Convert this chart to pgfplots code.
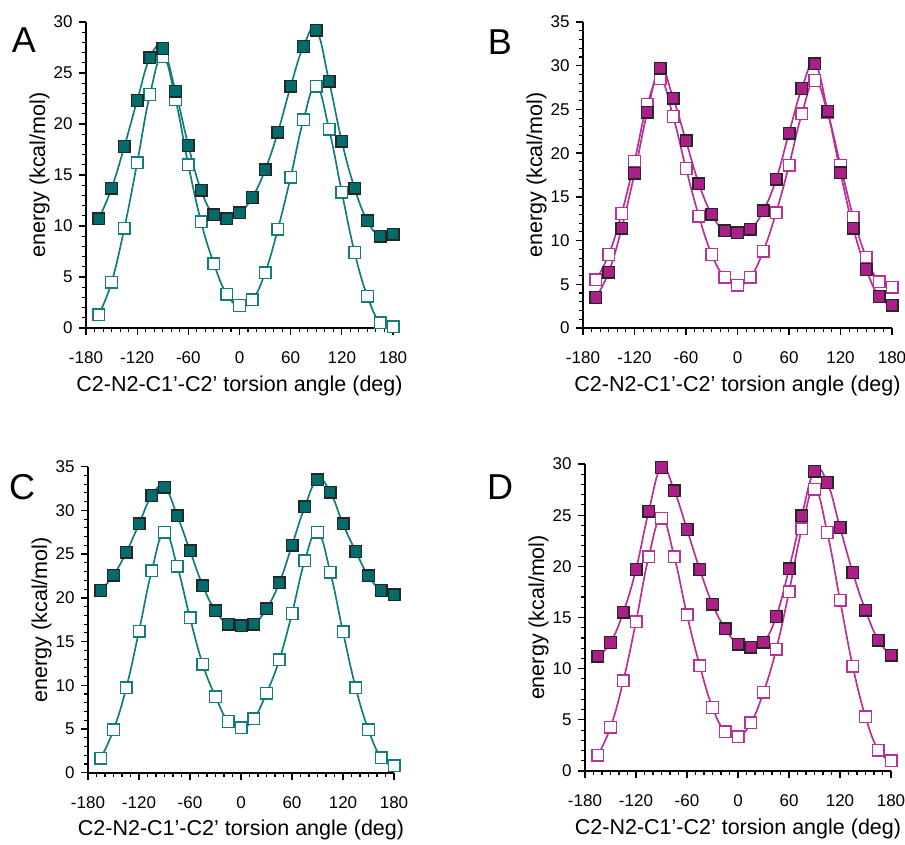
\documentclass[border=0pt]{standalone}
\usepackage{pgfplots}
\pgfplotsset{compat=1.18}
\usepackage{fontspec}
\setmainfont{Liberation Sans}
\definecolor{tealc}{RGB}{0,108,108}
\definecolor{tealline}{RGB}{18,124,126}
\definecolor{magc}{RGB}{172,30,136}
\definecolor{magline}{RGB}{182,50,150}
\pgfplotsset{
  panel/.style={
    scale only axis, clip=false,
    axis lines=left, axis line style={-, line width=1.6pt, black},
    tick align=outside,
    major tick length=0pt, minor tick length=0pt,
    xmin=-180, xmax=180, ymin=0,
    xtick={-180,-120,-60,0,60,120,180},
    xticklabels={-180,-120,-60,0,60,120,180},
    tick label style={font=\fontsize{17}{20}\selectfont},
    xticklabel style={yshift=-20pt},
    yticklabel style={xshift=-10pt},
    label style={font=\fontsize{21.5}{24}\selectfont},
    xlabel={C2-N2-C1'-C2' torsion angle (deg)},
    ylabel={energy (kcal/mol)},
    xlabel style={yshift=-5pt},
    ylabel style={yshift=-3pt},
  },
  ytick30/.style={ymax=30, ytick={0,5,10,15,20,25,30}, yticklabels={0,5,10,15,20,25,30}},
  ytick35/.style={ymax=35, ytick={0,5,10,15,20,25,30,35}, yticklabels={0,5,10,15,20,25,30,35}},
  darkT/.style={smooth, tension=0.75, line width=1.7pt, color=tealline, mark=square*, mark size=5.8pt,
     mark options={fill=tealc, draw=black!85, line width=1.4pt}},
  openT/.style={smooth, tension=0.75, line width=1.7pt, color=tealline, mark=square*, mark size=5.8pt,
     mark options={fill=white, draw=tealline, line width=1.4pt}},
  darkM/.style={smooth, tension=0.75, line width=1.7pt, color=magline, mark=square*, mark size=5.8pt,
     mark options={fill=magc, draw=black!85, line width=1.4pt}},
  openM/.style={smooth, tension=0.75, line width=1.7pt, color=magline, mark=square*, mark size=5.8pt,
     mark options={fill=white, draw=magline, line width=1.4pt}},
  majtk/.style={forget plot, only marks, mark size=3.5pt, mark options={black, line width=1.3pt}},
  mintk/.style={forget plot, only marks, mark size=2pt, mark options={black, line width=1.1pt}},
}
% x-axis tick marks: #1 = centre of a major tick, #2 = centre of a minor tick (y units)
\newcommand\xtk[2]{%
\addplot[majtk, mark=|] coordinates {(-180,#1)(-120,#1)(-60,#1)(0,#1)(60,#1)(120,#1)(180,#1)};
\addplot[mintk, mark=|] coordinates {(-170,#2)(-160,#2)(-150,#2)(-140,#2)(-130,#2)(-110,#2)(-100,#2)(-90,#2)(-80,#2)(-70,#2)(-50,#2)(-40,#2)(-30,#2)(-20,#2)(-10,#2)(10,#2)(20,#2)(30,#2)(40,#2)(50,#2)(70,#2)(80,#2)(90,#2)(100,#2)(110,#2)(130,#2)(140,#2)(150,#2)(160,#2)(170,#2)};
}
% y-axis tick marks
\newcommand\ytkthirty{%
\addplot[majtk, mark=-] coordinates {(-184.1,0)(-184.1,5)(-184.1,10)(-184.1,15)(-184.1,20)(-184.1,25)(-184.1,30)};
\addplot[mintk, mark=-] coordinates {(-182.35,1)(-182.35,2)(-182.35,3)(-182.35,4)(-182.35,6)(-182.35,7)(-182.35,8)(-182.35,9)(-182.35,11)(-182.35,12)(-182.35,13)(-182.35,14)(-182.35,16)(-182.35,17)(-182.35,18)(-182.35,19)(-182.35,21)(-182.35,22)(-182.35,23)(-182.35,24)(-182.35,26)(-182.35,27)(-182.35,28)(-182.35,29)};
}
\newcommand\ytkthirtyfive{%
\addplot[majtk, mark=-] coordinates {(-184.1,0)(-184.1,5)(-184.1,10)(-184.1,15)(-184.1,20)(-184.1,25)(-184.1,30)(-184.1,35)};
\addplot[mintk, mark=-] coordinates {(-182.35,1)(-182.35,2)(-182.35,3)(-182.35,4)(-182.35,6)(-182.35,7)(-182.35,8)(-182.35,9)(-182.35,11)(-182.35,12)(-182.35,13)(-182.35,14)(-182.35,16)(-182.35,17)(-182.35,18)(-182.35,19)(-182.35,21)(-182.35,22)(-182.35,23)(-182.35,24)(-182.35,26)(-182.35,27)(-182.35,28)(-182.35,29)(-182.35,31)(-182.35,32)(-182.35,33)(-182.35,34)};
}
\begin{document}
\begin{tikzpicture}
\useasboundingbox (0pt,0pt) rectangle (905pt,-844pt);
% ---------- A ----------
\begin{axis}[panel, ytick30, width=307pt, height=306pt, at={(86pt,-328pt)}, anchor=south west]
\xtk{-0.343}{-0.196}
\ytkthirty
\addplot[openT] coordinates {(-165,1.3)(-150,4.5)(-135,9.8)(-120,16.2)(-105,22.9)(-90,26.6)(-75,22.4)(-60,16.0)(-45,10.4)(-30,6.3)(-15,3.3)(0,2.2)(15,2.75)(30,5.4)(45,9.7)(60,14.8)(75,20.4)(90,23.7)(105,19.5)(120,13.3)(135,7.4)(150,3.1)(165,0.5)(180,0.1)};
\addplot[darkT] coordinates {(-165,10.7)(-150,13.7)(-135,17.8)(-120,22.3)(-105,26.5)(-90,27.4)(-75,23.2)(-60,17.9)(-45,13.5)(-30,11.1)(-15,10.7)(0,11.3)(15,12.8)(30,15.5)(45,19.2)(60,23.7)(75,27.6)(90,29.2)(105,24.2)(120,18.3)(135,13.7)(150,10.5)(165,9.0)(180,9.2)};
\end{axis}
% ---------- B ----------
\begin{axis}[panel, ytick35, width=309pt, height=306pt, at={(583pt,-328pt)}, anchor=south west]
\xtk{-0.400}{-0.229}
\ytkthirtyfive
\addplot[openM] coordinates {(-165,5.5)(-150,8.4)(-135,13.1)(-120,19.1)(-105,25.6)(-90,28.5)(-75,24.2)(-60,18.25)(-45,12.8)(-30,8.4)(-15,5.8)(0,4.9)(15,5.8)(30,8.8)(45,13.2)(60,18.6)(75,24.5)(90,28.3)(105,24.6)(120,18.6)(135,12.65)(150,8.1)(165,5.3)(180,4.65)};
\addplot[darkM] coordinates {(-165,3.5)(-150,6.4)(-135,11.4)(-120,17.7)(-105,24.7)(-90,29.7)(-75,26.3)(-60,21.4)(-45,16.5)(-30,13.0)(-15,11.1)(0,10.9)(15,11.3)(30,13.4)(45,17.0)(60,22.3)(75,27.4)(90,30.2)(105,24.8)(120,17.75)(135,11.4)(150,6.7)(165,3.6)(180,2.6)};
\end{axis}
% ---------- C ----------
\begin{axis}[panel, ytick35, width=306pt, height=306pt, at={(88pt,-772.7pt)}, anchor=south west]
\xtk{-0.400}{-0.229}
\ytkthirtyfive
\addplot[openT] coordinates {(-165,1.65)(-150,4.9)(-135,9.7)(-120,16.2)(-105,23.1)(-90,27.5)(-75,23.6)(-60,17.7)(-45,12.4)(-30,8.7)(-15,5.85)(0,5.15)(15,6.15)(30,9.1)(45,12.9)(60,18.2)(75,24.25)(90,27.5)(105,22.95)(120,16.1)(135,9.7)(150,4.9)(165,1.7)(180,0.8)};
\addplot[darkT] coordinates {(-165,20.85)(-150,22.6)(-135,25.2)(-120,28.45)(-105,31.7)(-90,32.65)(-75,29.4)(-60,25.4)(-45,21.4)(-30,18.5)(-15,17.0)(0,16.8)(15,17.0)(30,18.75)(45,21.7)(60,26.0)(75,30.4)(90,33.5)(105,32.1)(120,28.45)(135,25.3)(150,22.5)(165,20.85)(180,20.35)};
\end{axis}
% ---------- D ----------
\begin{axis}[panel, ytick30, width=306pt, height=307pt, at={(585pt,-771pt)}, anchor=south west]
\xtk{-0.343}{-0.196}
\ytkthirty
\addplot[openM] coordinates {(-165,1.56)(-150,4.27)(-135,8.8)(-120,14.6)(-105,20.95)(-90,24.7)(-75,20.95)(-60,15.25)(-45,10.3)(-30,6.2)(-15,3.85)(0,3.35)(15,4.7)(30,7.7)(45,11.9)(60,17.5)(75,23.65)(90,27.55)(105,23.3)(120,16.7)(135,10.25)(150,5.3)(165,2.05)(180,0.98)};
\addplot[darkM] coordinates {(-165,11.2)(-150,12.55)(-135,15.5)(-120,19.7)(-105,25.4)(-90,29.65)(-75,27.4)(-60,23.6)(-45,19.7)(-30,16.3)(-15,13.9)(0,12.4)(15,12.1)(30,12.6)(45,15.1)(60,19.75)(75,24.95)(90,29.3)(105,28.2)(120,23.8)(135,19.4)(150,15.7)(165,12.8)(180,11.3)};
\end{axis}
% panel letters
\node[font=\fontsize{36}{40}\selectfont] at (24pt,-40pt) {A};
\node[font=\fontsize{36}{40}\selectfont] at (500pt,-42pt) {B};
\node[font=\fontsize{36}{40}\selectfont] at (22pt,-487pt) {C};
\node[font=\fontsize{36}{40}\selectfont] at (500pt,-487pt) {D};
\end{tikzpicture}
\end{document}
